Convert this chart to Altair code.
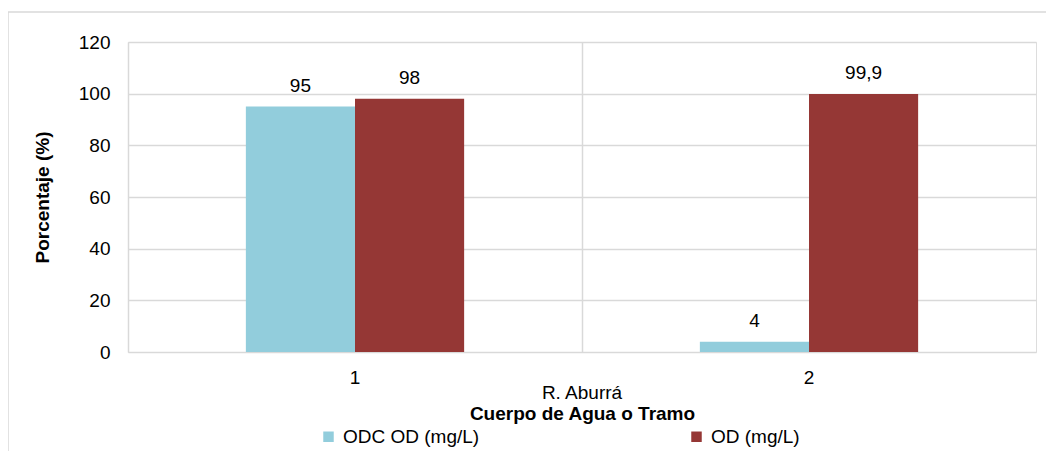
import altair as alt
import pandas as pd

categories = ["1", "1", "2", "2"]
series = ["ODC OD (mg/L)", "OD (mg/L)", "ODC OD (mg/L)", "OD (mg/L)"]
values = [95, 98, 4, 99.9]
labels = ["95", "98", "4", "99,9"]
group_name = ["R. Aburrá"]

series_order = ["ODC OD (mg/L)", "OD (mg/L)"]
colors = ["#92CDDC", "#953735"]
# empty slots on each side of the pair of bars inside a category
offset_domain = ["_left"] + series_order + ["_right"]

df = pd.DataFrame({"cat": categories, "serie": series, "val": values, "lab": labels})
gdf = pd.DataFrame({"g": group_name})

FONT = "Liberation Sans"
FS = 19
W, H = 908, 310

x_enc = alt.X(
    "cat:N",
    scale=alt.Scale(paddingInner=0, paddingOuter=0),
    axis=alt.Axis(
        title="Cuerpo de Agua o Tramo",
        titleFontWeight="bold",
        titleFontSize=FS,
        titleFont=FONT,
        titleColor="#000000",
        titleY=61,
        titleBaseline="middle",
        labelAngle=0,
        labelFontSize=FS,
        labelFont=FONT,
        labelColor="#000000",
        labelPadding=16,
        ticks=False,
        domain=False,
        grid=True,
        gridColor="#d9d9d9",
        gridWidth=1.5,
        bandPosition=0,
    ),
)

xoff_scale = alt.Scale(domain=offset_domain, paddingInner=0, paddingOuter=0.08)

y_enc = alt.Y(
    "val:Q",
    scale=alt.Scale(domain=[0, 120], nice=False),
    axis=alt.Axis(
        title="Porcentaje (%)",
        titleFontWeight="bold",
        titleFontSize=FS,
        titleFont=FONT,
        titleColor="#000000",
        titleX=-86,
        titleY=H / 2,
        titleBaseline="middle",
        values=[0, 20, 40, 60, 80, 100, 120],
        labelFontSize=FS,
        labelFont=FONT,
        labelColor="#000000",
        labelPadding=18,
        ticks=False,
        domain=False,
        grid=True,
        gridColor="#d9d9d9",
        gridWidth=1.5,
    ),
)

color_enc = alt.Color(
    "serie:N",
    scale=alt.Scale(domain=series_order, range=colors),
    legend=alt.Legend(
        title=None,
        orient="none",
        legendX=191,
        legendY=385,
        direction="horizontal",
        symbolType="square",
        symbolSize=110,
        symbolStrokeWidth=0,
        labelFontSize=FS,
        labelFont=FONT,
        labelColor="#000000",
        labelOffset=5,
        columnPadding=207,
        labelLimit=300,
    ),
)

base = alt.Chart(df)

bars = base.mark_bar().encode(
    x=x_enc,
    xOffset=alt.XOffset("serie:N", scale=xoff_scale),
    y=y_enc,
    color=color_enc,
)

texts = base.mark_text(dy=-21, fontSize=FS, font=FONT, color="#000000").encode(
    x=alt.X("cat:N"),
    xOffset=alt.XOffset("serie:N", scale=xoff_scale),
    y=alt.Y("val:Q"),
    text="lab:N",
)

group_text = alt.Chart(gdf).mark_text(
    fontSize=FS, font=FONT, color="#000000", baseline="middle"
).encode(x=alt.value(W / 2), y=alt.value(H + 41), text="g:N")

border_top = alt.Chart(gdf).mark_rule(color="#d9d9d9", strokeWidth=1.5).encode(
    x=alt.value(-120), x2=alt.value(930), y=alt.value(-30)
)
border_left = alt.Chart(gdf).mark_rule(color="#d9d9d9", strokeWidth=1.5).encode(
    x=alt.value(-120), y=alt.value(-30), y2=alt.value(430)
)

chart = (
    alt.layer(border_top, border_left, bars, texts, group_text)
    .properties(
        width=W,
        height=H,
        autosize=alt.AutoSizeParams(type="none"),
        padding={"left": 120, "top": 34, "right": 10, "bottom": 99},
    )
    .configure_view(stroke="#d9d9d9", strokeWidth=1.5)
    .configure(background="white")
)

chart.save("out.html", embed_options={"renderer": "svg", "actions": False})
